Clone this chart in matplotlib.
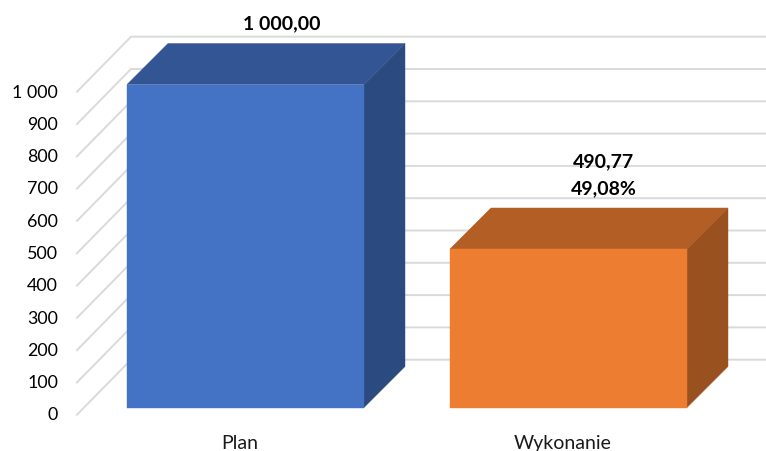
### Wykonanie planu - wykres slupkowy 3D

import numpy as np
import matplotlib.pyplot as plt
from matplotlib.patches import Polygon

################# Dane #################

kategorie = ["Plan", "Wykonanie"]
wartosci = [1000.00, 490.77]
etykiety = ["1 000,00", "490,77", "49,08%"]
yticks = [0, 100, 200, 300, 400, 500, 600, 700, 800, 900, 1000]
yticklabels = ["0", "100", "200", "300", "400", "500", "600", "700", "800", "900", "1 000"]

kolory = [("#4472c4", "#335593", "#2a4a80"), ("#ed7d31", "#b35e24", "#99511f")]

################# Geometria (piksele) #################

W, H = 766, 451
y0 = 407.5          # podstawa slupka
skala = 0.323       # piksele na jednostke

plt.rcParams["font.family"] = ["Lato", "DejaVu Sans"]

fig = plt.figure(figsize=(W/100, H/100), dpi=100)
ax = fig.add_axes([0, 0, 1, 1])
ax.set_xlim(-245.5/323, (W-245.5)/323)
ax.set_ylim((y0-H)/skala, y0/skala)
ax.axis("off")

dx = 1/323          # jeden piksel w jednostkach osi x
dy = 1/skala        # jeden piksel w jednostkach osi y

################# Siatka #################

for i in range(len(yticks)):
    v = yticks[i]
    ax.plot([-168.5*dx, -114.5*dx, 521*dx],
            [v-7.2*dy, v+47.8*dy, v+47.8*dy],
            color="#dadada", lw=1.4, solid_joinstyle="miter", zorder=1)
    ax.text(-187.5*dx, v-8*dy, yticklabels[i], ha="right", va="center",
            fontsize=12.9, color="black")

################# Slupki #################

szer = 118.5*dx
gl_x, gl_y = 41*dx, 41*dy
for i in range(len(wartosci)):
    v = wartosci[i]
    przod, gora, bok = kolory[i]
    l, r = i-szer, i+szer
    ax.add_patch(Polygon([(r, 0), (r+gl_x, gl_y), (r+gl_x, v+gl_y), (r, v)], fc=bok, ec=bok, lw=0.3, zorder=2))
    ax.add_patch(Polygon([(l, v), (l+gl_x, v+gl_y), (r+gl_x, v+gl_y), (r, v)], fc=gora, ec=gora, lw=0.3, zorder=2))
    ax.add_patch(Polygon([(l, 0), (r, 0), (r, v), (l, v)], fc=przod, ec=przod, lw=0.3, zorder=3))
    ax.text(i-6*dx, -36*dy, kategorie[i], ha="center", va="center", fontsize=14, color="#1a1a1a")

################# Etykiety #################

ax.text(0+36.5*dx, 1000+60.5*dy, etykiety[0], ha="center", va="center", fontsize=14, fontweight="bold", color="black")
ax.text(1+35*dx, 490.77+87*dy, etykiety[1], ha="center", va="center", fontsize=14, fontweight="bold", color="black")
ax.text(1+35*dx, 490.77+60.5*dy, etykiety[2], ha="center", va="center", fontsize=14, fontweight="bold", color="black")

fig.savefig("out.png", dpi=100)
